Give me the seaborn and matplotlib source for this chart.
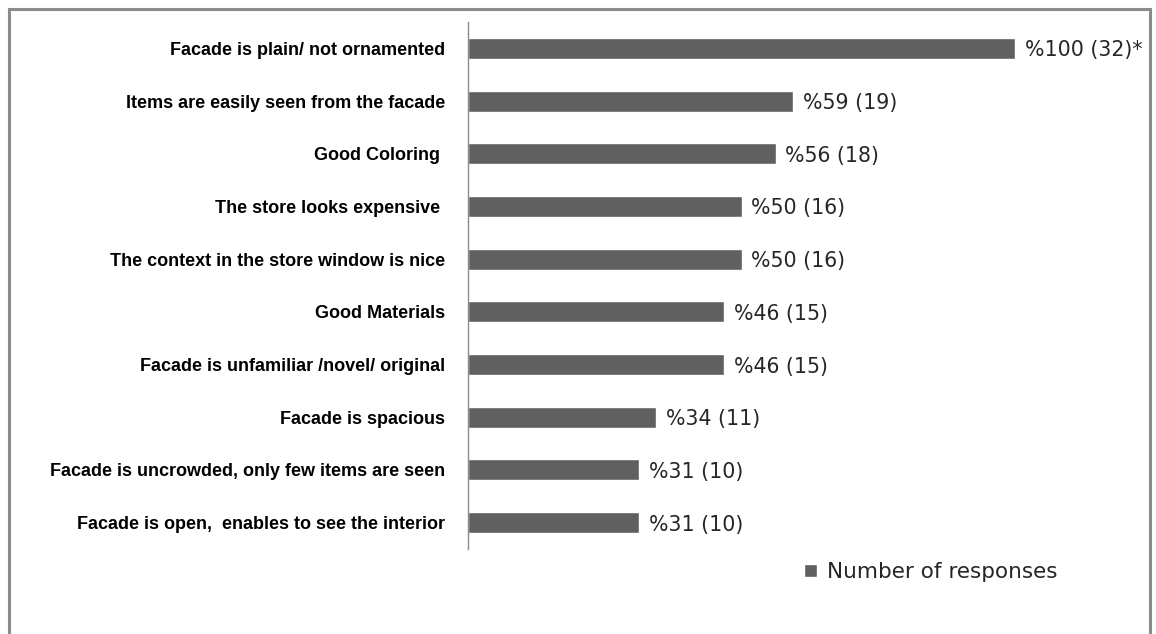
import matplotlib
matplotlib.use("Agg")
import matplotlib.pyplot as plt
from matplotlib.patches import Rectangle, Patch
import seaborn as sns

categories = [
    "Facade is plain/ not ornamented",
    "Items are easily seen from the facade",
    "Good Coloring ",
    "The store looks expensive ",
    "The context in the store window is nice",
    "Good Materials",
    "Facade is unfamiliar /novel/ original",
    "Facade is spacious",
    "Facade is uncrowded, only few items are seen",
    "Facade is open,  enables to see the interior",
]
counts = [32, 19, 18, 16, 16, 15, 15, 11, 10, 10]
percents = [100, 59, 56, 50, 50, 46, 46, 34, 31, 31]
notes = ["*", "", "", "", "", "", "", "", "", ""]
series_name = "Number of responses"

BAR = "#606060"

sns.set_theme(style="white")
plt.rcParams["font.family"] = ["Liberation Sans", "DejaVu Sans"]

W, H = 1156, 634
fig = plt.figure(figsize=(W / 100, H / 100), dpi=100)

# outer chart frame
fig.patches.append(Rectangle((8.5 / W, -0.05), (1150 - 8.5) / W, 1.05 - 8.5 / H,
                             transform=fig.transFigure, fill=False,
                             edgecolor="#8c8c8c", linewidth=2.2))

xmax = 36
px_per_unit = (1015 - 468) / 32
ax = fig.add_axes([468 / W, 1 - 549 / H, xmax * px_per_unit / W, 527 / H])

sns.barplot(x=counts, y=categories, orient="h", color=BAR, saturation=1,
            width=0.4, ax=ax)

ax.set_xlim(0, xmax)
ax.set_ylim(len(categories) - 0.5, -0.5)
ax.set_xlabel("")
ax.set_ylabel("")
ax.set_xticks([])
for s in ["top", "right", "bottom"]:
    ax.spines[s].set_visible(False)
ax.spines["left"].set_color("#8c8c8c")
ax.spines["left"].set_linewidth(1.0)
ax.tick_params(axis="y", length=0, pad=16.5, labelsize=13, labelcolor="black")
for t in ax.get_yticklabels():
    t.set_fontweight("bold")

labels = [f"%{p} ({c}){n}" for p, c, n in zip(percents, counts, notes)]
texts = ax.bar_label(ax.containers[0], labels=labels, padding=7, fontsize=14.8,
                     color="#262626", family="DejaVu Sans")
for t in texts:
    t.set_verticalalignment("center_baseline")

fig.legend(handles=[Patch(facecolor=BAR, label=series_name)],
           loc="center left", bbox_to_anchor=(804 / W, 1 - 572 / H),
           frameon=False, handlelength=0.6, handleheight=0.6,
           handletextpad=0.45, borderpad=0, borderaxespad=0,
           prop={"family": "DejaVu Sans", "size": 15.5}, labelcolor="#262626")

fig.savefig("out.png", dpi=100)
